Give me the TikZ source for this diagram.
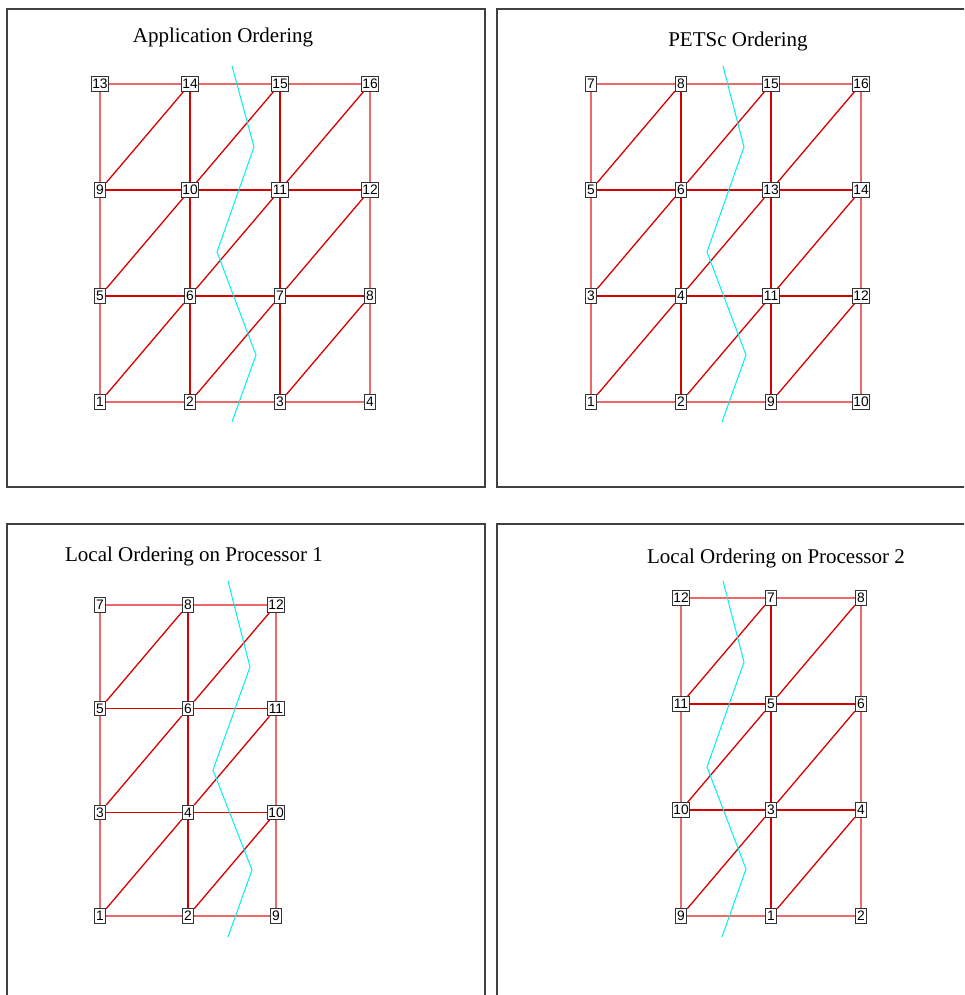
\documentclass[tikz,border=0pt]{standalone}
\usepackage{fontspec}
\setmainfont{Liberation Serif}
\newfontfamily\labelfont{Liberation Sans}
\usepackage{tikz}

\definecolor{meshred}{RGB}{215,0,0}
\definecolor{rimred}{RGB}{235,105,105}
\definecolor{cutcyan}{RGB}{0,240,240}

% one mesh of boxed vertex numbers, rows given bottom to top
\newcommand{\meshpanel}[6]{%
  \foreach \row [count=\r from 0] in {#6} {
    \foreach \lab [count=\c from 0] in \row {
      \node[vtx] (#1-\c-\r) at ({#2+#4*\c},{#3-#5*\r}) {\lab};
    }
  }
}
% grid lines and diagonals between the vertices of a mesh
\newcommand{\meshedges}[2]{%
  \foreach \r [evaluate=\r as \rn using int(\r+1)] in {0,...,3} {
    \foreach \c [evaluate=\c as \cn using int(\c+1)] in {0,...,#2} {
      \ifnum\r=0 \def\hsty{rim}\else\ifnum\r=3 \def\hsty{rim}\else\def\hsty{inner}\fi\fi
      \ifnum\c=0 \def\vsty{rim}\else\ifnum\c=#2 \def\vsty{rim}\else\def\vsty{inner}\fi\fi
      \ifnum\c<#2 \draw[\hsty] (#1-\c-\r) -- (#1-\cn-\r); \fi
      \ifnum\r<3 \draw[\vsty] (#1-\c-\r) -- (#1-\c-\rn); \fi
      \ifnum\c<#2 \ifnum\r<3 \draw[inner] (#1-\c-\r) -- (#1-\cn-\rn); \fi\fi
    }
  }
}

\begin{document}
\begin{tikzpicture}[x=1pt, y=-1pt]
\tikzset{
    frame/.style={draw=black!75, line width=1.3pt},
    title/.style={anchor=base, font=\fontsize{21}{21}\selectfont},
    vtx/.style={rectangle, draw=black!80, line width=0.9pt, fill=white, inner xsep=0.9pt, inner ysep=1pt,
                minimum width=11.5pt, minimum height=14.5pt, font=\labelfont\fontsize{13.8}{13.8}\selectfont},
    rim/.style={draw=rimred, line width=1.2pt},
    inner/.style={draw=meshred, line width=1.3pt},
    cut/.style={draw=cutcyan, line width=1pt}
}
\useasboundingbox (0,0) rectangle (964,995);
\clip (0,0) rectangle (964,995);

% panel frames
\draw[frame] (7,9) rectangle (485,487);
\draw[frame] (497,9) rectangle (990,487);
\draw[frame] (7,524) rectangle (485,1020);
\draw[frame] (497,524) rectangle (990,1020);

% titles
\node[title] (t1) at (223,43) {Application Ordering};
\node[title] (t2) at (738,46.5) {PETSc Ordering};
\node[title] (t3) at (194,561.5) {Local Ordering on Processor 1};
\node[title] (t4) at (776,563) {Local Ordering on Processor 2};

% meshes
\meshpanel{a}{100}{402}{90}{106}{{1,2,3,4},{5,6,7,8},{9,10,11,12},{13,14,15,16}}
\meshpanel{b}{591}{402}{90}{106}{{1,2,9,10},{3,4,11,12},{5,6,13,14},{7,8,15,16}}
\meshpanel{c}{100}{916}{88}{103.7}{{1,2,9},{3,4,10},{5,6,11},{7,8,12}}
\meshpanel{d}{681}{916}{90}{106}{{9,1,2},{10,3,4},{11,5,6},{12,7,8}}
\meshedges{a}{3}
\meshedges{b}{3}
\meshedges{c}{2}
\meshedges{d}{2}

% partition lines
\draw[cut] (232,66) -- (254,147) -- (217,252) -- (256,355) -- (232,422);
\draw[cut] (723,66) -- (744,147) -- (707,252) -- (746,355) -- (722,422);
\draw[cut] (228,581) -- (250,667) -- (213,770) -- (252,870) -- (228,937);
\draw[cut] (723,581) -- (744,662) -- (707,767) -- (746,869) -- (722,937);
\end{tikzpicture}
\end{document}
